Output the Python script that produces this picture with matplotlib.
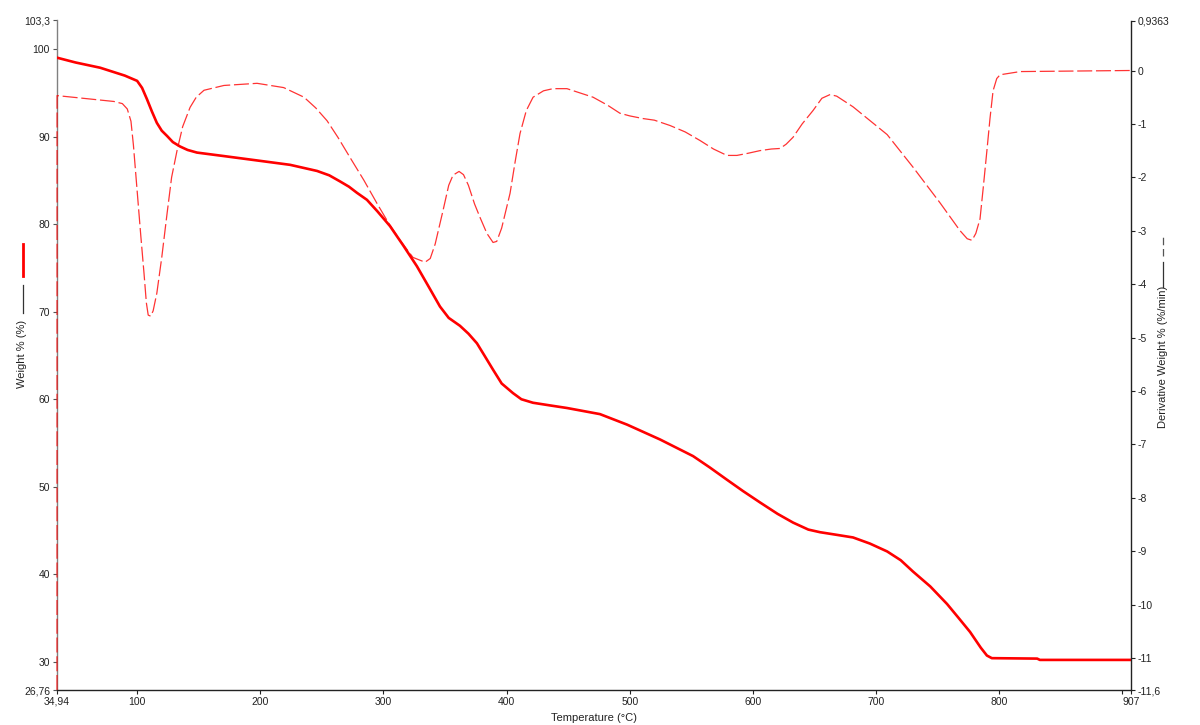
import matplotlib
matplotlib.use("Agg")
import matplotlib.pyplot as plt
from matplotlib.lines import Line2D

plt.rcParams['font.family'] = ['Liberation Sans', 'DejaVu Sans']

# Weight % curve (left axis)
temp_w = [34.94, 50, 70, 90, 100, 104, 108, 112, 116, 120, 124.3, 129, 134.8, 141, 148.6,
          170.5, 197.4, 224.2, 246.1, 256, 264.8, 272, 278.5, 286.6, 295, 305.3, 316,
          327.2, 337, 345.9, 353, 362.1, 369, 375.9, 382, 388.9, 396, 405.2, 412, 421.4,
          435, 449, 475.8, 497.8, 524.6, 551.4, 565, 578.9, 592, 605.8, 620, 632.6, 645,
          654.5, 668, 681.3, 695, 709, 720, 730, 744, 757.6, 767, 776.3, 785, 790, 794,
          830.8, 833, 907]
weight = [99.05, 98.5, 97.9, 97.0, 96.4, 95.6, 94.3, 92.9, 91.6, 90.7, 90.1, 89.4, 88.9, 88.5, 88.2,
          87.8, 87.3, 86.8, 86.1, 85.6, 84.9, 84.3, 83.6, 82.8, 81.5, 79.8, 77.6,
          75.2, 72.8, 70.6, 69.3, 68.4, 67.5, 66.4, 65.0, 63.4, 61.8, 60.7, 60.0, 59.6,
          59.3, 59.0, 58.3, 57.1, 55.4, 53.5, 52.2, 50.8, 49.5, 48.2, 46.9, 45.9, 45.1,
          44.8, 44.5, 44.2, 43.5, 42.6, 41.6, 40.3, 38.6, 36.6, 35.0, 33.4, 31.6, 30.7, 30.4,
          30.35, 30.2, 30.2]

# Derivative weight curve (right axis)
temp_d = [34.94, 35.0, 81.2, 88, 92, 95, 97, 100, 103, 105.6, 107.5, 109, 111, 113, 116,
          120, 124.3, 128, 132.4, 137, 143, 148, 154.3, 170.5, 197.4, 219, 235.5, 245,
          254.2, 263, 272.9, 284, 294.8, 304, 313.5, 324, 333.8, 338, 342, 348.4, 353,
          356.5, 361.4, 365, 369, 374, 378.4, 384, 389, 392, 396, 402.8, 407, 410.9, 416,
          421.5, 430, 437.7, 449, 470.2, 482, 492, 500, 510.8, 520, 532.7, 545, 557, 568,
          578.9, 587, 596, 605.8, 615, 622, 627, 632.6, 640, 648.8, 656, 662.7, 668, 676,
          681.3, 709, 730, 752, 768.2, 774, 777.9, 781, 784.4, 787, 790, 792.5, 795, 798,
          800.7, 817, 906]
deriv = [-11.6, -0.47, -0.58, -0.62, -0.72, -0.95, -1.4, -2.25, -3.1, -3.8, -4.35, -4.58, -4.6, -4.5, -4.17,
         -3.5, -2.68, -2.0, -1.5, -1.05, -0.69, -0.5, -0.37, -0.28, -0.24, -0.32, -0.5, -0.7,
         -0.94, -1.25, -1.63, -2.05, -2.49, -2.85, -3.18, -3.5, -3.59, -3.52, -3.25, -2.62, -2.15,
         -1.96, -1.89, -1.95, -2.15, -2.5, -2.75, -3.05, -3.22, -3.2, -2.95, -2.3, -1.7, -1.18, -0.75,
         -0.5, -0.38, -0.34, -0.34, -0.5, -0.65, -0.8, -0.85, -0.9, -0.93, -1.03, -1.15, -1.31, -1.47,
         -1.59, -1.59, -1.55, -1.5, -1.47, -1.46, -1.38, -1.25, -1.0, -0.75, -0.52, -0.45, -0.48, -0.6,
         -0.68, -1.2, -1.81, -2.48, -3.0, -3.15, -3.18, -3.05, -2.78, -2.2, -1.5, -0.9, -0.38, -0.15,
         -0.08, -0.02, 0.0]

x_ticks = [34.94, 100, 200, 300, 400, 500, 600, 700, 800, 900, 907]
x_labels = ["34,94", "100", "200", "300", "400", "500", "600", "700", "800", "", "907"]
yl_ticks = [26.76, 30, 40, 50, 60, 70, 80, 90, 100, 103.3]
yl_labels = ["26,76", "30", "40", "50", "60", "70", "80", "90", "100", "103,3"]
yr_ticks = [-11.6, -11, -10, -9, -8, -7, -6, -5, -4, -3, -2, -1, 0, 0.9363]
yr_labels = ["-11,6", "-11", "-10", "-9", "-8", "-7", "-6", "-5", "-4", "-3", "-2", "-1", "0", "0,9363"]

W, H = 1200, 725
fig = plt.figure(figsize=(W / 100, H / 100), dpi=100)
L, R, T, B = 57, 1131, 20.5, 690
ax = fig.add_axes([L / W, 1 - B / H, (R - L) / W, (B - T) / H])
ax2 = ax.twinx()

red = "#ff0000"
ax.plot(temp_w, weight, color=red, lw=1.9, solid_joinstyle='round', zorder=4)
ax2.plot(temp_d, deriv, color=red, lw=0.9, linestyle=(0, (12, 3)), alpha=0.8, zorder=3,
         clip_on=False)

ax.set_xlim(34.94, 907)
ax.set_ylim(26.76, 103.3)
ax2.set_ylim(-11.6, 0.9363)

tick_kw = dict(labelsize=7.5, labelcolor="#222222", length=3, width=0.8, direction='out')
ax.set_xticks(x_ticks)
ax.set_xticklabels(x_labels)
ax.set_yticks(yl_ticks)
ax.set_yticklabels(yl_labels)
ax2.set_yticks(yr_ticks)
ax2.set_yticklabels(yr_labels)
ax.tick_params(axis='x', colors="#222222", pad=2, **tick_kw)
ax.tick_params(axis='y', colors="#555555", pad=2, **tick_kw)
ax2.tick_params(axis='y', colors="#222222", pad=2, **tick_kw)

for a in (ax, ax2):
    a.spines['top'].set_visible(False)
    a.patch.set_visible(False)
ax.spines['left'].set_color("#808080")
ax.spines['left'].set_linewidth(1.0)
ax.spines['bottom'].set_color("#222222")
ax.spines['bottom'].set_linewidth(1.0)
ax.spines['right'].set_visible(False)
ax2.spines['left'].set_visible(False)
ax2.spines['bottom'].set_visible(False)
ax2.spines['right'].set_color("#222222")
ax2.spines['right'].set_linewidth(1.0)

fig.text(594 / W, 1 - 718 / H, "Temperature (°C)", ha='center', va='center',
         fontsize=8, color="#222222")

# Left axis title with line samples
fig.text(22 / W, 1 - 354 / H, "Weight % (%)", rotation=90, ha='center', va='center',
         fontsize=8, color="#222222")
fig.add_artist(Line2D([23 / W, 23 / W], [1 - 313 / H, 1 - 285 / H], color="#333333",
                      lw=0.9, transform=fig.transFigure))
fig.add_artist(Line2D([23 / W, 23 / W], [1 - 276 / H, 1 - 244 / H], color=red,
                      lw=2.0, transform=fig.transFigure))

# Right axis title with line samples
fig.text(1163 / W, 1 - 357 / H, "Derivative Weight % (%/min)", rotation=90, ha='center',
         va='center', fontsize=8, color="#222222")
fig.add_artist(Line2D([1163 / W, 1163 / W], [1 - 287 / H, 1 - 262 / H], color="#333333",
                      lw=0.9, transform=fig.transFigure))
fig.add_artist(Line2D([1163 / W, 1163 / W], [1 - 256 / H, 1 - 236 / H], color="#555555",
                      lw=0.9, linestyle=(0, (6, 3)), transform=fig.transFigure))

fig.savefig("out.png", dpi=100)
